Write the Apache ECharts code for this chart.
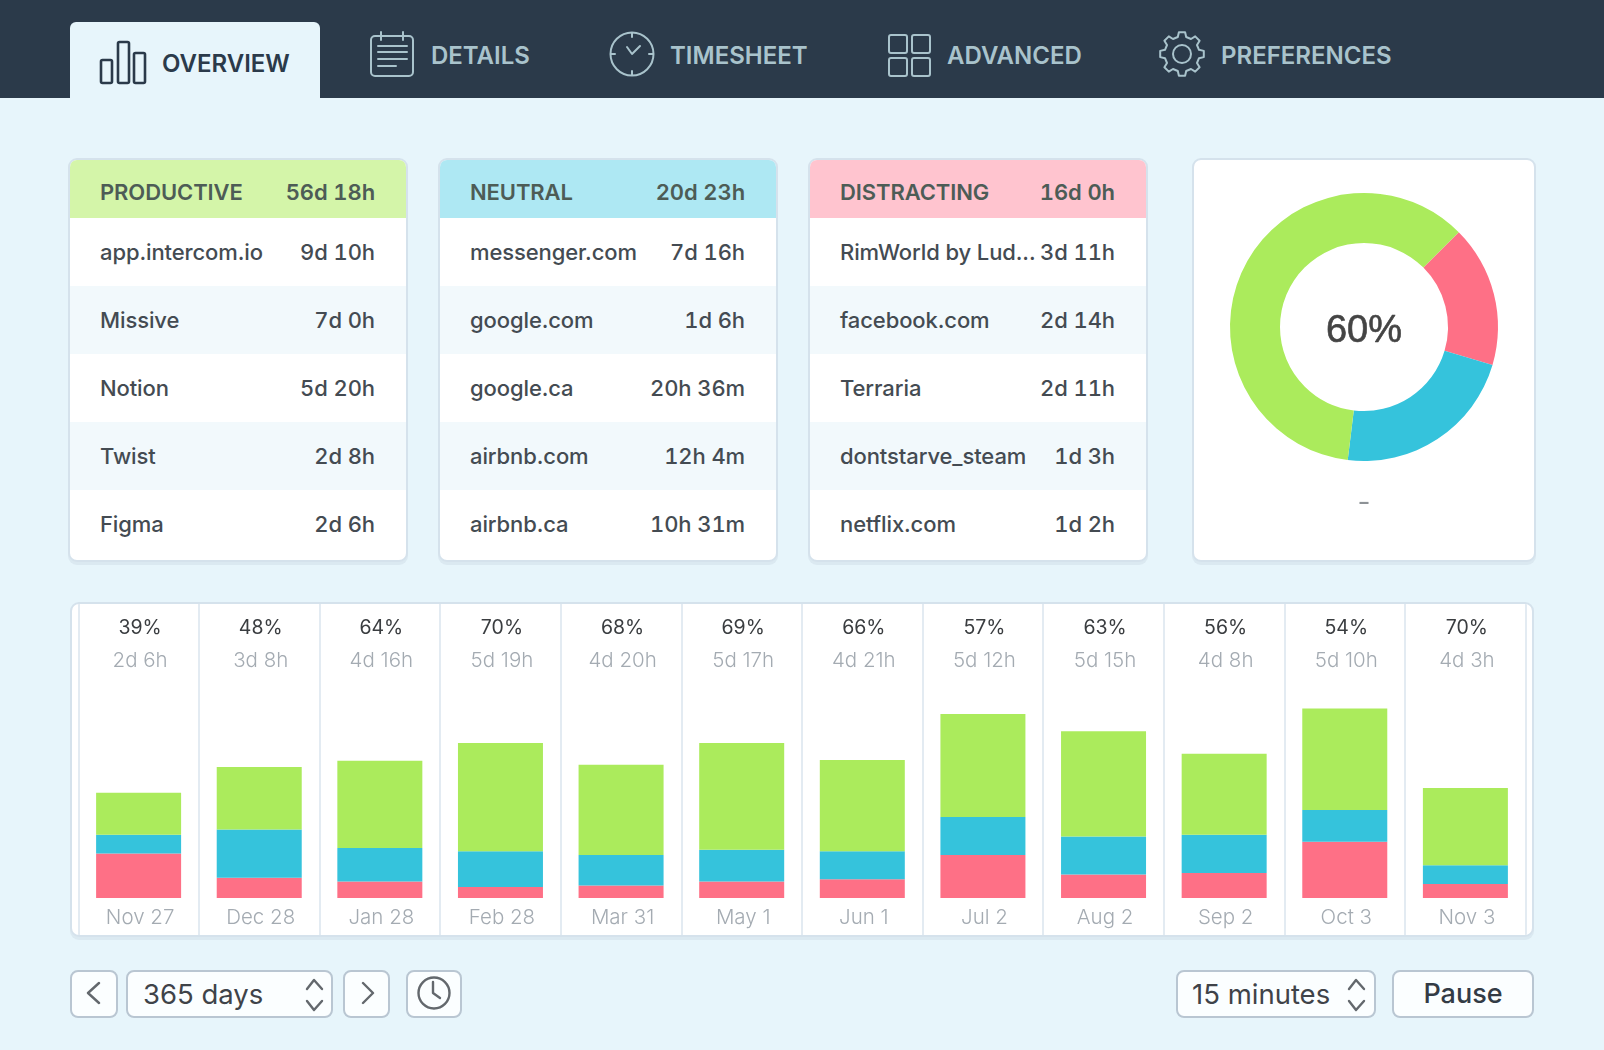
<!DOCTYPE html>
<html>
<head>
<meta charset="utf-8">
<title>Overview</title>
<script src="https://cdn.jsdelivr.net/npm/echarts@6/dist/echarts.min.js"></script>
<style>
html,body{margin:0;padding:0;width:1604px;height:1050px;overflow:hidden;background:#e7f5fb;font-family:Inter,"Noto Sans",sans-serif;}
.abs{position:absolute;}
#topbar{left:0;top:0;width:1604px;height:98px;background:#2b3a4a;}
#activetab{left:70px;top:22px;width:250px;height:76px;background:#e7f5fb;border-radius:6px 6px 0 0;}
.tablabel{font-size:24px;font-weight:600;line-height:30px;color:#a9c3cc;white-space:nowrap;}
.card{box-sizing:border-box;border:2px solid #d5e2ec;border-radius:9px;background:#fff;box-shadow:0 3px 0 #dbe9f1;overflow:hidden;}
.row{display:flex;justify-content:space-between;align-items:center;box-sizing:border-box;height:68px;padding:0 31px 0 30px;font-size:22px;font-weight:500;color:#444b52;white-space:nowrap;letter-spacing:-0.1px;}
.row .time{font-variant-numeric:tabular-nums;}
.row.head{height:58px;padding-top:5px;font-weight:600;color:#4d5c56;}
.row.alt{background:#f2f9fc;}
.btn{box-sizing:border-box;height:48px;top:970px;border:2px solid #b9c6d2;border-radius:8px;background:#fbfeff;}
.btntext{font-size:27.5px;line-height:34px;color:#3f4349;white-space:nowrap;top:977px;}
svg.abs{left:0;top:0;overflow:visible;}
</style>
</head>
<body>
<div id="topbar" class="abs"></div>
<div id="activetab" class="abs"></div>
<div id="cards"></div>
<div class="abs card" style="left:1192px;top:158px;width:344px;height:404px;">
	<div id="donut" style="width:340px;height:400px;"></div>
</div>
<div class="abs card" style="left:70px;top:602px;width:1464px;height:335px;">
	<div id="bars" style="width:1460px;height:331px;"></div>
</div>
<div class="abs btn" style="left:70px;width:48px;"></div>
<div class="abs btn" style="left:126px;width:207px;"></div>
<div class="abs btn" style="left:343px;width:47px;"></div>
<div class="abs btn" style="left:406px;width:56px;"></div>
<div class="abs btn" style="left:1176px;width:200px;"></div>
<div class="abs btn" style="left:1392px;width:142px;"></div>
<div class="abs btntext" style="left:143px;">365 days</div>
<div class="abs btntext" style="left:1192px;">15 minutes</div>
<div class="abs btntext" style="left:1392px;width:142px;text-align:center;font-size:27px;font-weight:500;color:#333b45;">Pause</div>
<div class="abs tablabel" style="left:162px;top:49px;color:#2b3a4a;">OVERVIEW</div>
<div class="abs tablabel" style="left:431px;top:41px;">DETAILS</div>
<div class="abs tablabel" style="left:670px;top:41px;">TIMESHEET</div>
<div class="abs tablabel" style="left:947px;top:41px;">ADVANCED</div>
<div class="abs tablabel" style="left:1221px;top:41px;">PREFERENCES</div>
<svg id="icons" class="abs" width="1604" height="1050" fill="none" stroke-linecap="round" stroke-linejoin="round"></svg>

<script>
const categories=['Nov 27','Dec 28','Jan 28','Feb 28','Mar 31','May 1','Jun 1','Jul 2','Aug 2','Sep 2','Oct 3','Nov 3'];
const percents=['39%','48%','64%','70%','68%','69%','66%','57%','63%','56%','54%','70%'];
const durations=['2d 6h','3d 8h','4d 16h','5d 19h','4d 20h','5d 17h','4d 21h','5d 12h','5d 15h','4d 8h','5d 10h','4d 3h'];
// hours per month
const distracting=[57,26,21,14,16,21,24,55,30,32,72,18];
const neutral=[24,62,43,46,39,41,36,49,49,49,41,24];
const productive=[54,80,112,139,116,137,117,132,135,104,130,99];
// totals in hours: 16d 0h, 20d 23h, 56d 18h
const totalnames=['Distracting','Neutral','Productive'];
const totalhours=[384,503,1362];
const totalpercent='60%';

const productivenames=['app.intercom.io','Missive','Notion','Twist','Figma'];
const productivetimes=['9d 10h','7d 0h','5d 20h','2d 8h','2d 6h'];
const neutralnames=['messenger.com','google.com','google.ca','airbnb.com','airbnb.ca'];
const neutraltimes=['7d 16h','1d 6h','20h 36m','12h 4m','10h 31m'];
const distractingnames=['RimWorld by Lud...','facebook.com','Terraria','dontstarve_steam','netflix.com'];
const distractingtimes=['3d 11h','2d 14h','2d 11h','1d 3h','1d 2h'];

const green='#abeb5c',blue='#35c3dc',red='#fe7086';

function addcard(left,title,total,tint,names,times){
	let html='<div class="row head" style="background:'+tint+'"><span>'+title+'</span><span class="time">'+total+'</span></div>';
	names.forEach(function(name,i){
		html+='<div class="row'+(i%2==1?' alt':'')+'"><span>'+name+'</span><span class="time">'+times[i]+'</span></div>';
	});
	let card=document.createElement('div');
	card.className='abs card';
	card.style.cssText='left:'+left+'px;top:158px;width:340px;height:404px;';
	card.innerHTML=html;
	document.getElementById('cards').appendChild(card);
}
addcard(68,'PRODUCTIVE','56d 18h','#d4f5a9',productivenames,productivetimes);
addcard(438,'NEUTRAL','20d 23h','#aee8f3',neutralnames,neutraltimes);
addcard(808,'DISTRACTING','16d 0h','#ffc4cf',distractingnames,distractingtimes);

// gear outline for the preferences tab
function gearpath(cx,cy,ro,ri,teeth){
	let d='';
	for(let i=0;i<teeth;i++){
		let a=i*2*Math.PI/teeth,w=Math.PI/teeth;
		let pts=[[ri,a-w*0.62],[ro,a-w*0.36],[ro,a+w*0.36],[ri,a+w*0.62]];
		pts.forEach(function(p,j){
			d+=((i==0&&j==0)?'M':'L')+(cx+p[0]*Math.cos(p[1])).toFixed(1)+' '+(cy+p[0]*Math.sin(p[1])).toFixed(1);
		});
	}
	return d+'Z';
}
const tabcolor='#a9c3cc',darkcolor='#2b3a4a',grey='#63686d';
document.getElementById('icons').innerHTML=
	'<g stroke="'+darkcolor+'" stroke-width="2.6"><rect x="101" y="60" width="11" height="23" rx="1.5"/><rect x="118" y="42" width="11" height="41" rx="1.5"/><rect x="134" y="53" width="11" height="30" rx="1.5"/></g>'+
	'<g stroke="'+tabcolor+'" stroke-width="2"><rect x="371" y="36" width="42" height="40" rx="4"/><path d="M381 32V40M403 32V40M378 46H407M378 52H407M378 59H407M378 66H396"/></g>'+
	'<g stroke="'+tabcolor+'" stroke-width="2"><circle cx="632" cy="54" r="21.5"/><path d="M632 33V37M632 71V75M611 54H615M649 54H653M627 47L632 54L640 46"/></g>'+
	'<g stroke="'+tabcolor+'" stroke-width="2"><rect x="889" y="35" width="18" height="18" rx="2"/><rect x="912" y="35" width="18" height="18" rx="2"/><rect x="889" y="58" width="18" height="18" rx="2"/><rect x="912" y="58" width="18" height="18" rx="2"/></g>'+
	'<g stroke="'+tabcolor+'" stroke-width="2"><path d="'+gearpath(1182,54,22,17.5,8)+'"/><circle cx="1182" cy="54" r="9"/></g>'+
	'<g stroke="'+grey+'" stroke-width="2.4"><path d="M99 983L88 993L99 1003M363 983L373 993L363 1003"/><path d="M307 989L314 980L322 989M307 1001L314 1010L322 1001"/><path d="M1349 989L1356 980L1364 989M1349 1001L1356 1010L1364 1001"/><circle cx="434" cy="993" r="15.5"/><path d="M433 982V993L440 998"/></g>';

function addbar(name,data,color){
	return {name:name,type:'bar',stack:'total',barWidth:85,data:data,itemStyle:{color:color},silent:true};
}

let barchart=echarts.init(document.getElementById('bars'));
barchart.setOption({
	animation:false,
	grid:{left:6.3,width:1447.4,top:0,bottom:0},
	xAxis:[{
		type:'category',
		data:categories,
		position:'bottom',
		axisLine:{show:false,onZero:false},
		axisTick:{show:false},
		splitLine:{show:true,lineStyle:{color:'#e3ebf2',width:2}},
		axisLabel:{interval:0,inside:true,margin:7,padding:[0,0,0,3],color:'#a4abb2',fontFamily:'Inter',fontSize:20.5,fontWeight:300,hideOverlap:false}
	},{
		type:'category',
		data:percents.map(function(p,i){return p+'|'+durations[i];}),
		position:'top',
		axisLine:{show:false,onZero:false},
		axisTick:{show:false},
		splitLine:{show:false},
		axisLabel:{
			interval:0,inside:true,margin:0,hideOverlap:false,
			formatter:function(v){
				let parts=v.split('|');
				return '{p|'+parts[0]+'}\n{d|'+parts[1]+'}';
			},
			rich:{
				p:{color:'#3a3d40',fontFamily:'Inter',fontSize:19.5,lineHeight:34,padding:[14,0,0,3]},
				d:{color:'#a4abb2',fontFamily:'Inter',fontSize:20.5,fontWeight:300,lineHeight:46,padding:[0,0,0,3]}
			}
		}
	}],
	yAxis:{type:'value',min:-47.5,max:377.2,show:false},
	series:[
		addbar('Distracting',distracting,red),
		addbar('Neutral',neutral,blue),
		addbar('Productive',productive,green)
	]
});

let donutchart=echarts.init(document.getElementById('donut'));
donutchart.setOption({
	animation:false,
	color:[red,blue,green],
	series:[{
		type:'pie',
		center:[170,167],
		radius:[84,134],
		startAngle:45,
		clockwise:true,
		silent:true,
		label:{show:false},
		labelLine:{show:false},
		data:totalnames.map(function(n,i){return {name:n,value:totalhours[i]};})
	}],
	graphic:[
		{type:'text',x:170,y:172,style:{text:totalpercent,fill:'#444',stroke:'#444',lineWidth:0.6,font:'38px "Liberation Sans"',textAlign:'center',textVerticalAlign:'middle'}},
		{type:'text',x:170,y:343,style:{text:'–',fill:'#8d9296',font:'bold 18px Inter',textAlign:'center',textVerticalAlign:'middle'}}
	]
});
</script>
</body>
</html>
